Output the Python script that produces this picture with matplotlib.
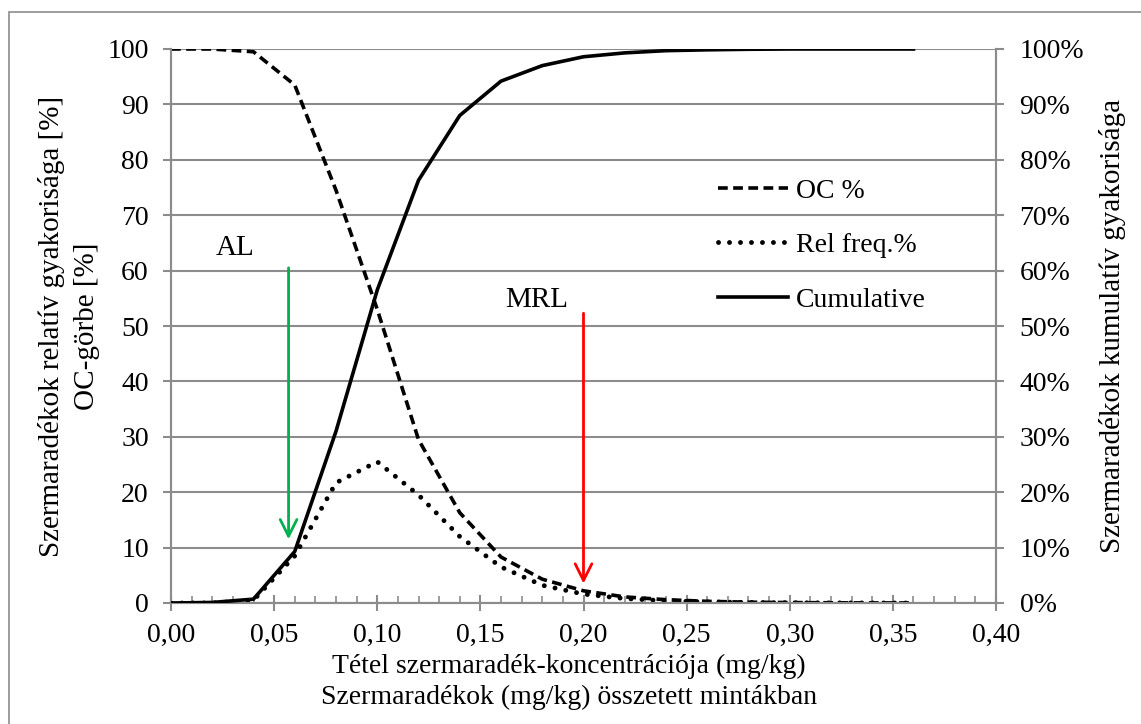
import matplotlib
matplotlib.use("Agg")
import matplotlib.pyplot as plt
from matplotlib.ticker import MultipleLocator, FuncFormatter
from matplotlib.patches import Rectangle

# data
conc = [0.00, 0.02, 0.04, 0.06, 0.08, 0.10, 0.12, 0.14, 0.16, 0.18,
        0.20, 0.22, 0.24, 0.26, 0.28, 0.30, 0.32, 0.34, 0.36]
oc_pct = [100, 100, 99.5, 93.5, 74.5, 53, 29.5, 16.3, 8.3, 4.3,
          2.2, 1.1, 0.6, 0.3, 0.15, 0.08, 0.04, 0.02, 0.01]
rel_freq = [0, 0, 0.5, 8.5, 21.7, 25.5, 19.5, 12, 6.5, 3.2,
            1.6, 0.8, 0.4, 0.2, 0.1, 0.05, 0.02, 0.01, 0]
cumulative = [0, 0.1, 0.7, 9.3, 31, 56.5, 76.3, 88, 94.2, 97,
              98.6, 99.3, 99.7, 99.85, 99.95, 100, 100, 100, 100]

plt.rcParams['font.family'] = ['Liberation Serif', 'DejaVu Serif']
fs = 20
fs_lab = 21
grid_col = '#8c8c8c'

fig = plt.figure(figsize=(11.41, 7.24), dpi=100)
ax = fig.add_axes([171/1141, 1-603/724, 825/1141, 554/724])
ax2 = ax.twinx()

l1, = ax.plot(conc, oc_pct, color='black', lw=2.6, linestyle=(0, (2.7, 1.5)),
              label='OC %', zorder=3)
l2, = ax.plot(conc, rel_freq, color='black', lw=3.5, linestyle=(0, (0.01, 2.25)),
              dash_capstyle='round', label='Rel freq.%', zorder=3)
l3, = ax2.plot(conc, cumulative, color='black', lw=2.6, label='Cumulative', zorder=3)

ax.set_xlim(0, 0.40)
ax.set_ylim(0, 100)
ax2.set_ylim(0, 100)
ax.xaxis.set_major_locator(MultipleLocator(0.05))
ax.xaxis.set_minor_locator(MultipleLocator(0.01))
ax.yaxis.set_major_locator(MultipleLocator(10))
ax2.yaxis.set_major_locator(MultipleLocator(10))
ax.xaxis.set_major_formatter(FuncFormatter(lambda v, p: f"{v:.2f}".replace('.', ',')))
ax2.yaxis.set_major_formatter(FuncFormatter(lambda v, p: f"{v:.0f}%"))

ax.grid(axis='y', color=grid_col, lw=1.5)
ax.set_axisbelow(True)
for a in (ax, ax2):
    a.spines['top'].set_visible(False)
    for s in ('left', 'right', 'bottom'):
        a.spines[s].set_color(grid_col)
        a.spines[s].set_linewidth(1.5)

ax.tick_params(axis='y', direction='out', length=6, width=1.5, color=grid_col,
               labelsize=fs, pad=10)
ax2.tick_params(axis='y', direction='out', length=6, width=1.5, color=grid_col,
                labelsize=fs, pad=11)
ax.tick_params(axis='x', which='major', direction='inout', length=12, width=1.5,
               color=grid_col, labelsize=fs, pad=8)
ax.tick_params(axis='x', which='minor', direction='in', length=5, width=1.2,
               color=grid_col)

# AL and MRL arrows
ax.annotate('', xy=(0.057, 11), xytext=(0.057, 61),
            arrowprops=dict(arrowstyle='->,head_length=1.2,head_width=0.6',
                            color='#00b050', lw=2))
ax.annotate('', xy=(0.20, 3), xytext=(0.20, 52.8),
            arrowprops=dict(arrowstyle='->,head_length=1.2,head_width=0.6',
                            color='#ff0000', lw=2))
ax.text(0.031, 64, 'AL', fontsize=fs_lab, ha='center', va='center')
ax.text(0.1775, 54.7, 'MRL', fontsize=fs_lab, ha='center', va='center')

ax.legend(handles=[l1, l2, l3], loc='upper left', bbox_to_anchor=(0.633, 0.812),
          frameon=False, fontsize=fs, handlelength=2.5, handletextpad=0.3,
          labelspacing=1.05)

fig.text(69/1141, 1-326/724, 'Szermaradékok relatív gyakorisága [%]\nOC-görbe [%]',
         rotation=90, ha='center', va='center', fontsize=fs_lab, linespacing=1.4)
fig.text(1113/1141, 1-326/724, 'Szermaradékok kumulatív gyakorisága',
         rotation=90, ha='center', va='center', fontsize=fs_lab)
fig.text(569/1141, 1-682/724, 'Tétel szermaradék-koncentrációja (mg/kg)\nSzermaradékok (mg/kg) összetett mintákban',
         ha='center', va='center', fontsize=fs, linespacing=1.3)

fig.patches.append(Rectangle((9/1141, -0.1), 1.2, 1.1 - 12/724,
                             transform=fig.transFigure, fill=False,
                             edgecolor=grid_col, lw=1.2))

fig.savefig('out.png', dpi=100)
